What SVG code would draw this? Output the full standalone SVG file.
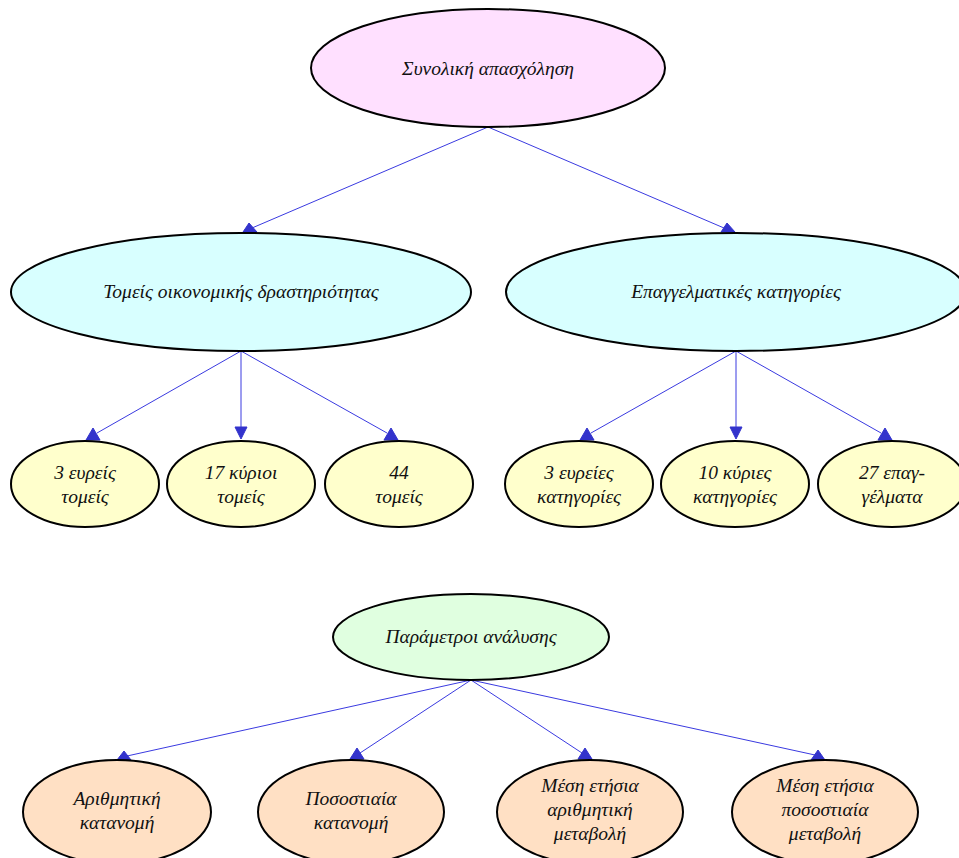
<svg xmlns="http://www.w3.org/2000/svg" width="959" height="858" viewBox="0 0 959 858">
<style>
.n{stroke:#000;stroke-width:2}
.t{font-family:"Liberation Serif","DejaVu Serif",serif;font-style:italic;font-size:19.5px;fill:#111;text-anchor:middle}
.e{stroke:#3a3ae0;stroke-width:1;fill:none}
.a{fill:#3333cc;stroke:#3333cc;stroke-width:1}
.p{fill:#ffe0ff}.c{fill:#d8ffff}.y{fill:#ffffcc}.g{fill:#e0ffe0}.o{fill:#ffe0c4}
</style>
<rect width="959" height="858" fill="#fff"/>
<g id="connectors">
<path class="e" d="M488,127L252,228"/><polygon class="a" points="249,223 243,232 257,232"/>
<path class="e" d="M488,127L724,228"/><polygon class="a" points="727,223 721,232 735,232"/>
<path class="e" d="M241,351L97,433"/><polygon class="a" points="93,428 86,440 100,440"/>
<path class="e" d="M241,351L241,428"/><polygon class="a" points="235,427 247,427 241,439"/>
<path class="e" d="M241,351L387,433"/><polygon class="a" points="391,428 384,440 398,440"/>
<path class="e" d="M736,351L591,433"/><polygon class="a" points="587,428 580,440 594,440"/>
<path class="e" d="M736,351L736,428"/><polygon class="a" points="730,427 742,427 736,439"/>
<path class="e" d="M736,351L881,433"/><polygon class="a" points="885,428 878,440 892,440"/>
<path class="e" d="M471,680L127,756"/><polygon class="a" points="124,751 117,760 131,760"/>
<path class="e" d="M471,680L360,753"/><polygon class="a" points="357,748 350,759 364,759"/>
<path class="e" d="M471,680L582,753"/><polygon class="a" points="585,748 578,759 592,759"/>
<path class="e" d="M471,680L815,755"/><polygon class="a" points="818,750 811,760 825,760"/>
</g>
<g id="n_total"><ellipse class="n p" cx="488" cy="68" rx="177" ry="59"/><text class="t" x="488" y="75">Συνολική απασχόληση</text></g>
<g id="n_sectors"><ellipse class="n c" cx="241" cy="292" rx="230" ry="59"/><text class="t" x="241" y="298">Τομείς οικονομικής δραστηριότητας</text></g>
<g id="n_occup"><ellipse class="n c" cx="736" cy="292" rx="230" ry="59"/><text class="t" x="736" y="298">Επαγγελματικές κατηγορίες</text></g>
<g id="n_s3"><ellipse class="n y" cx="85" cy="484" rx="74" ry="43"/><text class="t" x="85" y="479">3 ευρείς</text><text class="t" x="85" y="503">τομείς</text></g>
<g id="n_s17"><ellipse class="n y" cx="241" cy="484" rx="74" ry="43"/><text class="t" x="241" y="479">17 κύριοι</text><text class="t" x="241" y="503">τομείς</text></g>
<g id="n_s44"><ellipse class="n y" cx="399" cy="484" rx="74" ry="43"/><text class="t" x="399" y="479">44</text><text class="t" x="399" y="503">τομείς</text></g>
<g id="n_o3"><ellipse class="n y" cx="579" cy="484" rx="74" ry="43"/><text class="t" x="579" y="479">3 ευρείες</text><text class="t" x="579" y="503">κατηγορίες</text></g>
<g id="n_o10"><ellipse class="n y" cx="735" cy="484" rx="74" ry="43"/><text class="t" x="735" y="479">10 κύριες</text><text class="t" x="735" y="503">κατηγορίες</text></g>
<g id="n_o27"><ellipse class="n y" cx="892" cy="484" rx="74" ry="43"/><text class="t" x="892" y="479">27 επαγ-</text><text class="t" x="892" y="503">γέλματα</text></g>
<g id="n_params"><ellipse class="n g" cx="471" cy="637" rx="138" ry="43"/><text class="t" x="471" y="643">Παράμετροι ανάλυσης</text></g>
<g id="n_arith"><ellipse class="n o" cx="117" cy="812" rx="94" ry="52"/><text class="t" x="117" y="805">Αριθμητική</text><text class="t" x="117" y="829">κατανομή</text></g>
<g id="n_pct"><ellipse class="n o" cx="351" cy="812" rx="93" ry="52"/><text class="t" x="351" y="805">Ποσοστιαία</text><text class="t" x="351" y="829">κατανομή</text></g>
<g id="n_avgarith"><ellipse class="n o" cx="590" cy="812" rx="93" ry="52"/><text class="t" x="590" y="792">Μέση ετήσια</text><text class="t" x="590" y="816">αριθμητική</text><text class="t" x="590" y="840">μεταβολή</text></g>
<g id="n_avgpct"><ellipse class="n o" cx="825" cy="812" rx="93" ry="52"/><text class="t" x="825" y="792">Μέση ετήσια</text><text class="t" x="825" y="816">ποσοστιαία</text><text class="t" x="825" y="840">μεταβολή</text></g>
</svg>
